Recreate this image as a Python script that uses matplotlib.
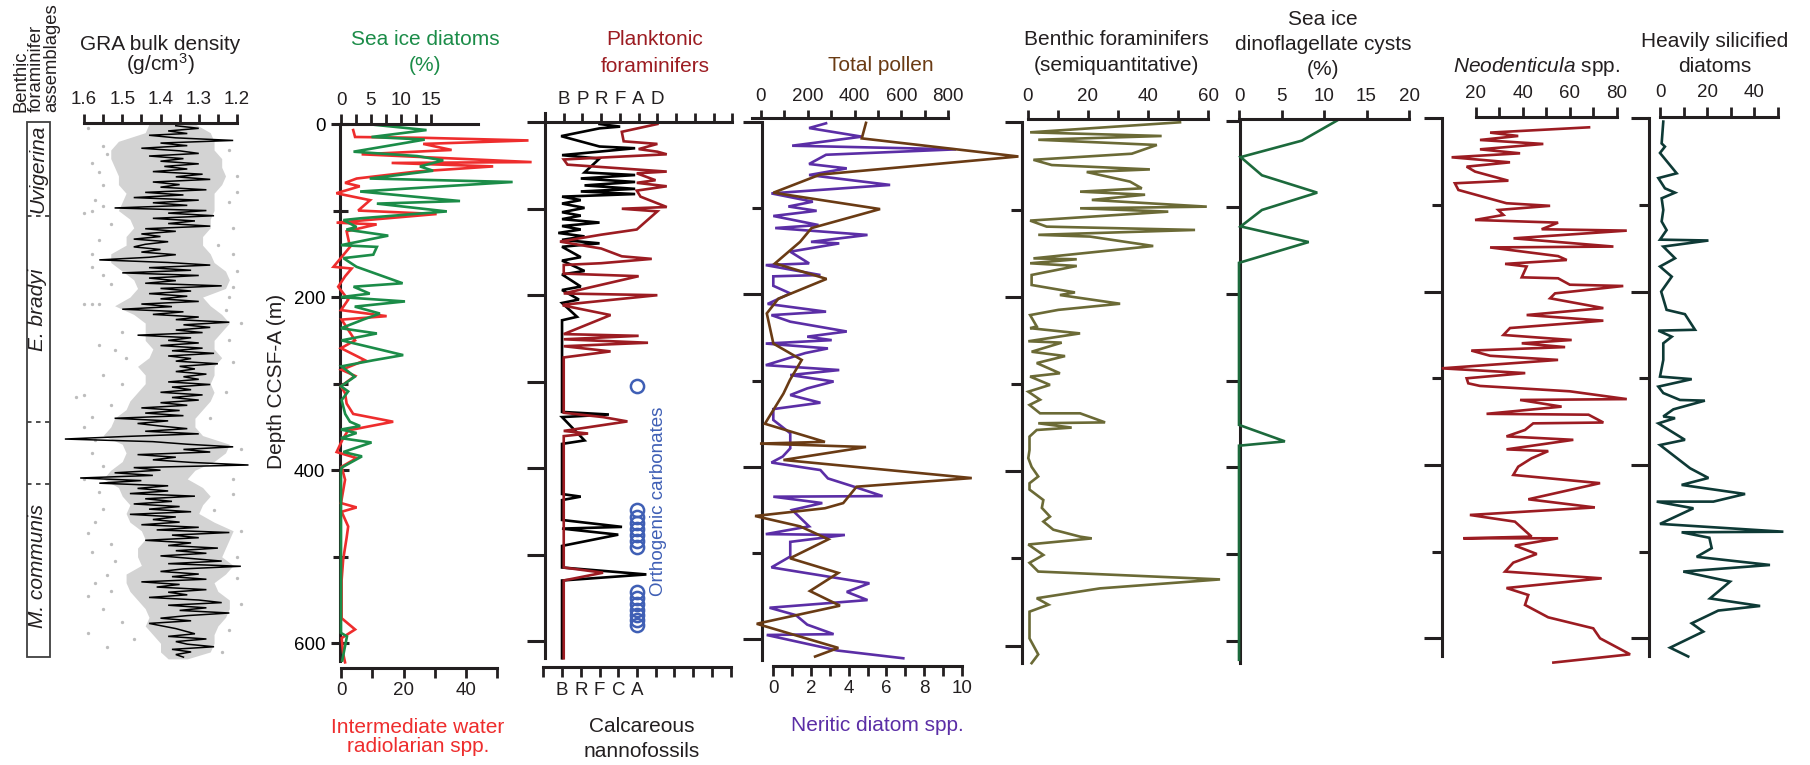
import numpy as np
import matplotlib.pyplot as plt
from matplotlib.patches import Rectangle

plt.rcParams['font.family'] = 'Liberation Sans'
plt.rcParams['mathtext.fontset'] = 'custom'
plt.rcParams['mathtext.rm'] = 'Liberation Sans'
plt.rcParams['mathtext.it'] = 'Liberation Sans:italic'

INK = '#231f20'
GREEN = '#1b8c48'
RED = '#ee2d2d'
DRED = '#9c1c22'
BROWN = '#6a3b14'
PURPLE = '#5b2ea6'
OLIVE = '#6b6a36'
DGREEN = '#1c6a3c'
TEAL = '#0e3a36'
BLUE = '#3f5fb5'
TICK_FS = 13.5

# ---------------- data: (depth m, value) ----------------
zone_names = ['Uvigerina', 'E. bradyi', 'M. communis']
zone_label_depth = [52, 215, 511]
zone_bounds = [106, 344, 416]

gra_line = [(2,1.36),(5,1.30),(8,1.38),(11,1.33),(13,1.43),(16,1.36),(19,1.21),(22,1.40),(25,1.33),(28,1.45),
            (31,1.35),(34,1.30),(37,1.43),(40,1.34),(43,1.40),(46,1.30),(49,1.39),(52,1.33),(55,1.42),(58,1.29),
            (61,1.36),(64,1.27),(67,1.42),(70,1.35),(73,1.40),(76,1.28),(79,1.44),(82,1.34),(85,1.47),(88,1.30),
            (91,1.42),(94,1.33),(97,1.52),(100,1.28),(103,1.38),(106,1.26),(109,1.42),(112,1.31),(115,1.38),(118,1.27),
            (121,1.44),(124,1.36),(127,1.45),(130,1.40),(133,1.47),(136,1.38),(139,1.44),(142,1.47),(145,1.40),(148,1.45),
            (151,1.36),(154,1.43),(157,1.56),(160,1.38),(163,1.27),(166,1.43),(169,1.32),(172,1.50),(175,1.30),(178,1.43),
            (181,1.36),(184,1.44),(187,1.24),(190,1.40),(193,1.32),(196,1.43),(199,1.33),(202,1.40),(205,1.30),(208,1.45),
            (211,1.37),(214,1.50),(217,1.34),(220,1.42),(223,1.30),(226,1.36),(229,1.22),(232,1.34),(235,1.27),(238,1.36),
            (241,1.29),(244,1.46),(247,1.32),(250,1.38),(253,1.30),(256,1.40),(259,1.29),(262,1.37),(265,1.26),(268,1.38),
            (271,1.32),(274,1.36),(277,1.25),(280,1.35),(283,1.31),(286,1.36),(289,1.28),(292,1.34),(295,1.30),(298,1.38),
            (301,1.27),(304,1.37),(307,1.32),(310,1.40),(313,1.29),(316,1.37),(319,1.30),(322,1.40),(325,1.33),(328,1.45),
            (331,1.35),(334,1.44),(337,1.34),(340,1.52),(343,1.38),(346,1.46),(349,1.40),(352,1.33),(355,1.44),(358,1.30),
            (361,1.49),(364,1.65),(367,1.42),(370,1.33),(373,1.21),(376,1.34),(379,1.27),(382,1.46),(385,1.36),(388,1.42),
            (391,1.32),(394,1.17),(397,1.47),(400,1.40),(403,1.52),(406,1.42),(409,1.61),(412,1.45),(415,1.56),(418,1.38),
            (421,1.46),(424,1.38),(427,1.48),(430,1.31),(433,1.44),(436,1.37),(439,1.47),(442,1.35),(445,1.43),(448,1.32),
            (451,1.48),(454,1.36),(457,1.42),(460,1.35),(463,1.45),(466,1.30),(469,1.41),(472,1.22),(475,1.37),(478,1.30),
            (481,1.44),(484,1.32),(487,1.38),(490,1.25),(493,1.36),(496,1.28),(499,1.40),(502,1.32),(505,1.24),(508,1.38),
            (511,1.19),(514,1.34),(517,1.40),(520,1.30),(523,1.37),(526,1.28),(529,1.45),(532,1.35),(535,1.41),(538,1.28),
            (541,1.38),(544,1.33),(547,1.43),(550,1.30),(553,1.24),(556,1.38),(559,1.28),(562,1.35),(565,1.22),(568,1.33),
            (571,1.40),(574,1.32),(577,1.43),(583,1.36),(589,1.31),(592,1.38),(595,1.28),(598,1.36),(601,1.33),(604,1.26),
            (607,1.37),(610,1.32),(613,1.36),(616,1.34)]

# dense part of the grey measurement cloud: (depth, high-density edge, low-density edge)
gra_band = [(0,1.43,1.31),(10,1.44,1.27),(20,1.51,1.26),(30,1.53,1.26),(40,1.53,1.24),(50,1.52,1.24),(60,1.51,1.23),
            (70,1.51,1.24),(80,1.49,1.26),(90,1.50,1.26),(100,1.51,1.26),(110,1.48,1.27),(120,1.47,1.27),(130,1.49,1.29),
            (140,1.49,1.29),(150,1.53,1.27),(160,1.53,1.26),(170,1.50,1.23),(180,1.47,1.22),(190,1.46,1.23),(200,1.48,1.29),
            (210,1.52,1.27),(220,1.47,1.24),(230,1.44,1.22),(240,1.44,1.24),(250,1.44,1.26),(260,1.42,1.26),(270,1.43,1.24),
            (280,1.46,1.26),(290,1.44,1.26),(300,1.44,1.27),(310,1.46,1.26),(320,1.48,1.27),(330,1.49,1.29),(340,1.52,1.31),
            (350,1.53,1.31),(360,1.55,1.29),(370,1.50,1.22),(380,1.49,1.23),(390,1.50,1.26),(400,1.53,1.31),(410,1.55,1.33),
            (420,1.51,1.29),(430,1.50,1.27),(440,1.48,1.29),(450,1.49,1.30),(460,1.48,1.26),(470,1.45,1.21),(480,1.44,1.22),
            (490,1.46,1.23),(500,1.46,1.24),(510,1.45,1.21),(520,1.49,1.23),(530,1.49,1.26),(540,1.48,1.25),(550,1.46,1.22),
            (560,1.44,1.22),(570,1.43,1.23),(580,1.44,1.25),(590,1.42,1.26),(600,1.40,1.26),(610,1.40,1.27),(618,1.38,1.33)]

gra_dots = [(5,1.59),(88,1.57),(101,1.58),(103,1.60),(134,1.56),(150,1.58),(165,1.58),(208,1.60),(208,1.58),(208,1.56),
            (261,1.52),(78,1.20),(188,1.21),(315,1.62),(313,1.60),(338,1.58),(410,1.60),(473,1.59),(494,1.58),(521,1.54),
            (545,1.59),(588,1.59),(604,1.54),(410,1.21),(428,1.21),(446,1.26),(230,1.19),(60,1.20),(120,1.21),(255,1.56),
            (290,1.55),(25,1.55),(45,1.58),(150,1.21),(200,1.22),(350,1.60),(380,1.58),(460,1.57),(530,1.57),(560,1.55),
            (35,1.54),(55,1.56),(70,1.55),(95,1.55),(115,1.53),(175,1.55),(185,1.53),(240,1.50),(270,1.49),(300,1.50),
            (325,1.53),(365,1.57),(395,1.55),(425,1.56),(445,1.55),(485,1.53),(505,1.52),(540,1.53),(575,1.50),(595,1.47),
            (30,1.22),(90,1.22),(140,1.25),(170,1.20),(215,1.23),(250,1.22),(275,1.21),(310,1.23),(340,1.27),(375,1.19),
            (470,1.19),(500,1.20),(525,1.20),(555,1.19),(585,1.22),(610,1.24)]

sea_ice_diatoms = [(1,5.7),(7,14.3),(15,5.1),(18,14.0),(32,2.1),(37,12.7),(42,17.1),(49,13.2),(54,15.4),(63,4.8),
                   (67,28.7),(78,3.2),(89,19.9),(92,6.0),(101,17.7),(109,3.2),(111,0.4),(119,2.6),(122,0.9),(129,7.9),
                   (140,0),(142,6.0),(151,5.4),(155,0.4),(165,2.6),(184,10.3),(188,2.1),(196,4.8),(200,0),(205,10.7),
                   (211,2.3),(219,6.5),(226,3.7),(236,0),(242,6.0),(250,0.1),(267,10.4),(273,5.4),(280,0.1),(292,2.3),
                   (303,0),(309,1.2),(319,0.1),(335,0.7),(344,1.5),(349,3.2),(353,0),(357,2.6),(363,0),(368,5.1),
                   (379,0.4),(384,3.5),(397,0.1),(402,0),(588,0),(592,1.0),(620,0.2)]

radiolarians = [(7,3.9),(15,4.5),(16,26.9),(19,60),(23,26.3),(30,35.4),(35,6.6),(44,61),(45,16.2),(49,48.7),
                (55,24),(63,5.0),(68,1.3),(72,6),(80,-1.5),(88,9.3),(100,5.5),(104,30.6),(114,-1.4),(116,11.4),
                (124,1.8),(142,2.9),(165,-2.4),(167,3.4),(176,1.3),(188,-0.9),(203,2.3),(215,0),(222,14.6),(226,0.2),
                (250,4.5),(259,0),(273,7.7),(284,0.2),(291,4.5),(303,0),(311,1.3),(323,1.8),(335,3.9),(344,16.7),
                (354,2.3),(363,0.7),(379,-1.4),(386,5.0),(396,0.2),(411,1.3),(438,0),(443,5.0),(448,0.2),(465,2.3),
                (478,1.8),(503,0.7),(527,0.2),(571,0.2),(584,4.5),(594,0.2),(612,0.7),(622,1.3)]

# abundance classes: 1 = B (barren) ... 6 = D
planktonic = [(2,6.0),(11,4.1),(22,4.2),(25,6.0),(31,5.0),(34,6.0),(37,6.5),(43,1.0),(49,1.2),(57,6.5),
              (59,4.9),(67,5.9),(70,4.9),(74,6.5),(79,4.9),(86,5.1),(98,6.5),(100,4.1),(103,6.0),(124,4.9),
              (130,3.0),(138,0.8),(146,3.0),(155,4.1),(158,5.7),(163,3.0),(165,1.0),(175,1.0),(178,5.0),(198,1.0),
              (200,6.0),(211,1.0),(212,1.0),(223,3.5),(245,1.0),(247,5.0),(251,1.0),(255,5.5),(259,1.0),(265,3.5),
              (272,1.0),(336,1.0),(341,3.1),(346,4.4),(357,1.0),(360,2.3),(363,1.0),(515,1.0),(521,3.1),(530,1.0),
              (620,1.0)]

nannofossils = [(2,3.0),(5,4.1),(7,3.0),(16,0.95),(28,3.0),(30,4.9),(38,1.0),(42,3.0),(58,2.2),(61,4.9),
                (65,2.0),(69,4.9),(73,2.2),(77,4.9),(80,2.0),(83,4.9),(86,1.0),(90,2.0),(94,1.0),(99,2.2),
                (104,1.0),(108,2.0),(112,1.0),(116,3.0),(120,1.0),(124,2.0),(128,0.8),(132,2.2),(136,1.0),(140,3.0),
                (144,1.0),(156,2.0),(160,1.0),(172,2.2),(176,1.0),(190,2.0),(194,1.0),(205,1.9),(209,1.0),(225,1.8),
                (229,1.0),(335,1.0),(338,3.5),(341,1.0),(368,2.2),(372,1.0),(430,1.0),(433,2.0),(437,1.0),(460,1.0),
                (468,4.2),(470,1.0),(477,4.0),(490,1.0),(515,1.0),(523,5.5),(530,1.0),(620,1.0)]

orthogenic_depth = [305, 449, 456, 463, 470, 477, 484, 491, 543, 550, 557, 564, 570, 576, 582]

pollen = [(1,449),(19,431),(40,1099),(61,253),(82,54),(101,509),(123,217),(139,168),(164,61),(182,281),
          (205,75),(222,26),(257,54),(276,175),(299,125),(315,97),(350,18),(371,274),(373,-3),(377,449),
          (392,97),(413,900),(423,409),(442,352),(448,274),(457,-24),(469,168),(484,289),(506,125),(523,331),
          (544,210),(561,338),(582,-17),(610,331),(620,232)]

neritic = [(1.5,2.8),(7,1.9),(17,4.7),(27.5,1.0),(31.7,9.7),(38,2.8),(48.7,1.9),(53.8,3.9),(61.5,1.9),(73,6.2),
           (82.8,-0.1),(92.4,2.1),(98,0.8),(103,2.3),(109,0),(119.5,2.4),(123,0.1),(131,5.0),(139,2.0),(140.8,3.5),
           (150.4,0.9),(164,1.9),(166,-0.4),(177.5,2.5),(179,0),(190,0),(198.8,0.9),(211,-0.3),(220,2.8),(224,-0.1),
           (231.6,0.9),(243,3.9),(249,1.8),(253,3.1),(257,-0.4),(262.6,2.9),(268,1.7),(282,-0.4),(287.7,3.5),(293.5,0.9),
           (301,3.2),(309,1.8),(316.7,0.9),(325.6,2.5),(333,0),(345.6,0),(361,0.9),(378.5,0.9),(388,0.5),(395,-0.1),
           (403.7,2.5),(413.4,2.9),(423.8,4.4),(433.9,5.8),(434.6,0),(442,2.6),(450,1.0),(469,1.9),(478,-0.4),(479,3.8),
           (487,0.9),(504,0.9),(516.6,-0.1),(535,5.1),(545,3.9),(554.5,5.0),(563.4,-0.2),(572,1.2),(583,1.8),(594,3.2),
           (595,-0.35),(613,3.4),(622,6.9)]

benthic = [(0,50.6),(11.5,0.8),(15.7,44.5),(20,3.5),(26,42.9),(36,34.6),(43,1.9),(49,8),(54,40.6),(57,19.6),
           (68,34),(75.7,37.9),(79.5,17.4),(83,39),(89,21.3),(96.7,59.5),(98.6,17.4),(102.4,46.7),(112.7,0.8),(119.6,6.3),
           (123.4,55.6),(129,3.5),(131,20.7),(141.8,41.7),(156,1.9),(157,16.3),(161.6,0.8),(164.7,16.3),(175,1.3),(186.5,1.3),
           (195,15.7),(198,10.7),(208,30.7),(215,10.2),(221,0.8),(234,3),(236,0.8),(242,17.4),(251,0.2),(252.6,11.3),
           (263,1.3),(268,12.4),(276,3),(287.7,10.7),(291.5,0.8),(301,7.4),(308.8,0.2),(318,4.1),(324,0.6),(333.6,4.1),
           (333.6,17.4),(344,25.7),(345,3.5),(350,14.6),(352.7,3),(360.3,0.6),(375.6,0.6),(385,0.2),(395,1.3),(406,3.5),
           (413.8,0.6),(421,0.6),(433,5.2),(442,4.7),(452,7.4),(457.7,5.2),(467,8.5),(475,17.4),(477,21.3),(484,0.2),
           (496,5.2),(505,0.6),(515,3.5),(524,63.9),(534.3,24),(545.6,3),(553,6.9),(561,0.6),(591.6,0.6),(610,3.5),
           (620,1.3)]

dinocysts = [(0,11.5),(23,7.4),(42,0.2),(63,2.7),(83,9.2),(103,2.7),(122,0.2),(140,8.2),(164,0),(351,0),
             (370,5.4),(375,0),(622,0)]

neodenticula = [(10.4,68.2),(16.5,26),(20.4,38),(25,21.7),(29.6,48.7),(35.8,21.7),(40.4,38.8),(45,9.6),(50.8,34.5),(55.8,16),
                (61.5,19.6),(72,33.8),(75,11),(82.7,12.5),(98,33),(101,51.6),(105.8,29.5),(111.5,31.7),(117.3,19.6),(120.4,55),
                (128,48),(129.6,84.3),(138.5,36),(148,78.6),(149,26),(159,55),(163.5,58.7),(168,32.4),(171,41.6),(183.5,39.5),
                (184.6,55),(192,60),(193.5,82.8),(202,53.7),(207.7,51.6),(219,74.3),(227,41.6),(233.5,74.3),(242,34.5),(250,31.7),
                (255.8,60.8),(259.6,39.5),(264,58),(268,18),(274,26),(278.8,55),(288.5,5.4),(294,41),(300,16),(305.8,16.7),
                (308.8,21.7),(315,60),(324,84.3),(325,38.8),(332.7,56.5),(341,24.5),(342,68),(351,74.3),(352,44.4),(359.6,40.9),
                (367,33),(371,61.5),(382,33),(384,50.8),(392.3,43.7),(402,38),(411.5,35.9),(421,72.9),(439.6,42.3),(449,70.7),
                (457.7,17.4),(465.4,36.6),(482.7,43.7),(484.6,14.6),(484.6,55),(493,36.6),(502.7,45.9),(512.7,35.9),(523,32.4),(530.8,73.6),
                (542,33),(550,42.3),(561.5,40.9),(575.8,50.8),(588.5,70),(600,72.9),(618.5,85.7),(628,53)]

silicified = [(3.8,1.4),(29,0.7),(32.7,2.1),(40,0),(63.5,7.1),(69,-0.7),(80.8,2.1),(85.8,6.4),(92.3,0.7),(105.8,1.4),
              (119,0.7),(129,2.8),(140,0),(141,20.6),(148,1.4),(161.5,6.4),(171,0),(182.7,5),(200,0.5),(221,2.8),
              (226,10.6),(244,14.9),(245,-0.7),(252,5),(259.6,1.4),(278.8,1.4),(298,0),(301,13.5),(309.6,-0.7),(317,1.4),
              (325,8.5),(325.8,19.1),(335.8,5.7),(344,1.4),(346,6.4),(352,-0.7),(371,10.6),(377,0),(403.8,12.8),(415,20.6),
              (423,9.2),(433.5,36.2),(442.3,22.7),(442.3,-1.4),(450,14.2),(468,0),(477,52.5),(477.7,9.2),(484,21),(496,22),
              (506,15.6),(515.4,46.8),(523,9.9),(534.6,29.8),(554,21.3),(562.7,42.6),(568,24.8),(582.7,13.5),(592.3,18.4),(610.8,4.3),
              (621,12)]

# ---------------- layout helpers (figure pixels) ----------------
W, H = 1810, 765
fig = plt.figure(figsize=(W / 100, H / 100), dpi=100)


def lim(px0, px1, pa, va, pb, vb):
    s = (vb - va) / (pb - pa)
    return va + (px0 - pa) * s, va + (px1 - pa) * s


def depth_axes(px0, px1, y0, y600, dtop, dbot):
    k = (y600 - y0) / 600.0
    ytop, ybot = y0 + k * dtop, y0 + k * dbot
    ax = fig.add_axes([px0 / W, 1 - ybot / H, (px1 - px0) / W, (ybot - ytop) / H])
    ax.set_ylim(dbot, dtop)
    ax.patch.set_visible(False)
    for s in ax.spines.values():
        s.set_visible(False)
    ax.set_xticks([])
    ax.set_yticks([])
    return ax, (px0, px1, ytop, ybot)


def depth_spine(ax, box, xpx, d0, d1, maj, mnr, direction='out', labels=False):
    px0, px1 = box[0], box[1]
    sp = ax.spines['left']
    sp.set_visible(True)
    sp.set_position(('axes', (xpx - px0) / (px1 - px0)))
    sp.set_bounds(d0, d1)
    sp.set_linewidth(2.2)
    sp.set_color(INK)
    ax.set_yticks([0, 200, 400, 600])
    ax.set_yticks([100, 300, 500], minor=True)
    ax.set_ylim(d1, d0)
    ax.tick_params(axis='y', which='major', length=maj * 0.72, width=2.2, color=INK,
                   direction=direction, labelsize=TICK_FS, pad=4, labelleft=labels)
    ax.tick_params(axis='y', which='minor', length=mnr * 0.72, width=2.2, color=INK,
                   direction=direction)


def scale(ax, box, side, ypx, pa, va, pb, vb, lo, hi, major, labels, minor=(), tick=9.5):
    px0, px1, ytop, ybot = box
    tw = ax.twiny()
    for s in tw.spines.values():
        s.set_visible(False)
    sp = tw.spines[side]
    sp.set_visible(True)
    sp.set_position(('axes', (ybot - ypx) / (ybot - ytop)))
    sp.set_bounds(lo, hi)
    sp.set_linewidth(2.2)
    sp.set_color(INK)
    if side == 'bottom':
        tw.xaxis.tick_bottom()
    tw.set_xticks(major)
    tw.set_xticklabels(labels)
    tw.set_xticks(list(minor), minor=True)
    tw.set_xlim(*lim(px0, px1, pa, va, pb, vb))
    tw.tick_params(axis='x', which='both', direction='out', length=tick * 0.72, width=2.0,
                   color=INK, labelcolor=INK, labelsize=TICK_FS, pad=3.5)
    return tw


def curve(axis, pairs, color, lw=1.9):
    d, v = zip(*pairs)
    axis.plot(v, d, color=color, lw=lw, clip_on=False, solid_joinstyle='miter')


def ftext(x, y, s, **kw):
    kw.setdefault('ha', 'center')
    kw.setdefault('va', 'baseline')
    kw.setdefault('fontsize', 15)
    kw.setdefault('color', INK)
    fig.text(x / W, 1 - y / H, s, **kw)


# ---------------- benthic assemblage column ----------------
ax0, b0 = depth_axes(26.7, 50, 124, 643.3, -2.3, 615.5)
ax0.set_xlim(0, 1)
ax0.add_patch(Rectangle((0, -2.3), 1, 617.8, fill=False, lw=1.3, ec='#404040', clip_on=False))
for d in zone_bounds:
    ax0.plot([0, 1], [d, d], color='#404040', lw=1.3, ls=(0, (2.5, 2.5)), clip_on=False)
for name, d in zip(zone_names, zone_label_depth):
    ax0.text(0.7, d, name, rotation=90, rotation_mode='anchor', ha='center', va='baseline',
             fontsize=15, style='italic', color=INK)
for xb, s in [(25, 'Benthic'), (40.5, 'foraminifer'), (56, 'assemblages')]:
    ftext(xb, 112, s, rotation=90, rotation_mode='anchor', ha='left', fontsize=13.3)

# ---------------- GRA bulk density ----------------
ax1, b1 = depth_axes(60, 262, 124, 643.3, 0, 622)
g1 = scale(ax1, b1, 'top', 122.7, 84, 1.6, 237, 1.2, 1.6, 1.2, [1.6, 1.5, 1.4, 1.3, 1.2],
           ['1.6', '1.5', '1.4', '1.3', '1.2'], minor=[1.55, 1.45, 1.35, 1.25])
bd, bl, br = zip(*gra_band)
g1.fill_betweenx(bd, bl, br, color='#d3d3d3', lw=0)
dd, dv = zip(*gra_dots)
g1.plot(dv, dd, 'o', ms=2.4, color='#bdbdbd', mew=0, clip_on=False)
curve(g1, gra_line, 'black', lw=1.1)
ftext(160, 50, 'GRA bulk density')
ftext(160, 71, '(g/cm$^3$)')

# ---------------- sea ice diatoms / radiolarians ----------------
ax2, b2 = depth_axes(340, 545, 124, 643.3, 0, 621)
depth_spine(ax2, b2, 340, 0, 621, 18, 15, direction='inout', labels=True)
r2 = scale(ax2, b2, 'bottom', 668, 341, 0, 466, 40, 0, 50, [0, 20, 40], ['0', '20', '40'],
           minor=[10, 30, 50])
s2 = scale(ax2, b2, 'top', 124, 341, 0, 430.7, 15, 0, 22.9, [0, 5, 10, 15], ['0', '5', '10', '15'],
           minor=[2.5, 7.5, 12.5], tick=10)
curve(r2, radiolarians, RED)
curve(s2, sea_ice_diatoms, GREEN)
ftext(276, 381, 'Depth CCSF-A (m)', rotation=90, va='center')
ftext(425, 45, 'Sea ice diatoms', color=GREEN)
ftext(425, 71, '(%)', color=GREEN)
ftext(418, 733, 'Intermediate water', color=RED)
ftext(418, 752, 'radiolarian spp.', color=RED)

# ---------------- planktonic forams / nannofossils ----------------
ax3, b3 = depth_axes(540, 740, 122.3, 641, -10.7, 619.7)
depth_spine(ax3, b3, 545, -10.7, 619.7, 18, 18)
n3 = scale(ax3, b3, 'bottom', 667.3, 543.3, 0, 730.7, 10, 0, 10, list(range(11)),
           ['', 'B', 'R', 'F', 'C', 'A', '', '', '', '', ''])
p3 = scale(ax3, b3, 'top', 122.3, 545, 0, 732.3, 10, 0, 10, list(range(11)),
           ['', 'B', 'P', 'R', 'F', 'A', 'D', '', '', '', ''])
curve(n3, nannofossils, 'black')
curve(p3, planktonic, DRED)
n3.plot([5] * len(orthogenic_depth), orthogenic_depth, 'o', ms=9.5, mfc='none', mec=BLUE, mew=1.8,
        clip_on=False)
ftext(658, 501, 'Orthogenic carbonates', rotation=90, va='center', fontsize=13.5, color=BLUE)
ftext(655, 45, 'Planktonic', color=DRED)
ftext(655, 72, 'foraminifers', color=DRED)
ftext(642, 732, 'Calcareous')
ftext(642, 757, 'nannofossils')

# ---------------- pollen / neritic diatoms ----------------
ax4, b4 = depth_axes(745, 1025, 122, 639.3, 0, 624)
depth_spine(ax4, b4, 762, 0, 624, 19, 10)
n4 = scale(ax4, b4, 'bottom', 666, 773.3, 0, 961.7, 10, 0, 10, list(range(11)),
           ['0', '', '2', '', '4', '', '6', '', '8', '', '10'])
p4 = scale(ax4, b4, 'top', 118, 760.7, 0, 948.3, 800, -38, 800, [0, 200, 400, 600, 800],
           ['0', '200', '400', '600', '800'], minor=[100, 300, 500, 700], tick=8.5)
curve(n4, neritic, PURPLE)
curve(p4, pollen, BROWN)
ftext(881, 71, 'Total pollen', color=BROWN)
ftext(877, 731, 'Neritic diatom spp.', color=PURPLE)

# ---------------- benthic foraminifers ----------------
ax5, b5 = depth_axes(1022.3, 1225, 122.3, 645.7, 0, 620)
depth_spine(ax5, b5, 1022.3, 0, 620, 17, 11)
t5 = scale(ax5, b5, 'top', 119, 1027.7, 0, 1208.3, 60, 0, 60, [0, 20, 40, 60],
           ['0', '20', '40', '60'], minor=[10, 30, 50])
curve(t5, benthic, OLIVE)
ftext(1116, 45, 'Benthic foraminifers')
ftext(1116, 71, '(semiquantitative)')

# ---------------- sea ice dinocysts ----------------
ax6, b6 = depth_axes(1230, 1430, 120.7, 640.7, 0, 625.7)
t6 = scale(ax6, b6, 'top', 119, 1239, 0, 1409, 20, 0, 20, [0, 5, 10, 15, 20],
           ['0', '5', '10', '15', '20'])
curve(t6, dinocysts, DGREEN)
depth_spine(ax6, b6, 1240, 0, 625.7, 14, 14)
ftext(1323, 25, 'Sea ice')
ftext(1323, 50, 'dinoflagellate cysts')
ftext(1323, 75, '(%)')

# ---------------- Neodenticula ----------------
ax7, b7 = depth_axes(1442.3, 1640, 118.3, 638.3, 0, 620.4)
depth_spine(ax7, b7, 1442.3, 0, 620.4, 18, 10)
t7 = scale(ax7, b7, 'top', 117.3, 1476, 20, 1616.7, 80, 20, 80, [20, 40, 60, 80],
           ['20', '40', '60', '80'], minor=[30, 50, 70], tick=10.5)
curve(t7, neodenticula, DRED)
ftext(1537, 72, r'$\mathit{Neodenticula}$ spp.')

# ---------------- heavily silicified diatoms ----------------
ax8, b8 = depth_axes(1649.3, 1805, 118.3, 638.3, 0, 620.4)
depth_spine(ax8, b8, 1649.3, 0, 620.4, 18, 10)
t8 = scale(ax8, b8, 'top', 116.7, 1660, 0, 1754, 40, 0, 50, [0, 20, 40], ['0', '20', '40'],
           minor=[10, 30, 50], tick=10.5)
curve(t8, silicified, TEAL)
ftext(1715, 47, 'Heavily silicified')
ftext(1715, 72, 'diatoms')

fig.savefig('out.png', dpi=100)
